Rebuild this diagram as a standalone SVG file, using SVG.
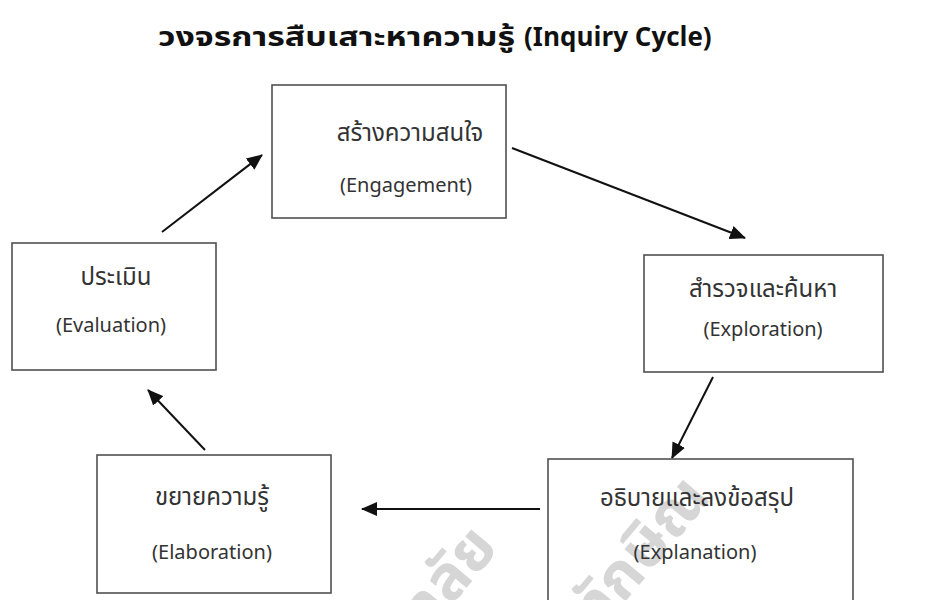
<svg xmlns="http://www.w3.org/2000/svg" width="936" height="600" viewBox="0 0 936 600">
<style>
.box{fill:#fff;stroke:#505050;stroke-width:1.6}
.th{font-family:"Noto Sans Thai","Noto Sans Thai Looped",Loma,Garuda,"DejaVu Sans",sans-serif;font-size:24px;fill:#333;text-anchor:middle}
.en{font-family:"Noto Sans","DejaVu Sans",sans-serif;font-size:20px;fill:#333;text-anchor:middle}
.title{font-family:"Noto Sans Thai",Loma,"Noto Sans","DejaVu Sans",sans-serif;font-size:26px;font-weight:bold;fill:#111}
.wm{font-family:"Noto Sans Thai",Loma,"DejaVu Sans",sans-serif;font-size:62px;font-weight:bold;fill:#c4c4c4;fill-opacity:0.7;text-anchor:end}
.conn{stroke:#111;stroke-width:2;fill:none;marker-end:url(#ah)}
</style>
<defs>
<marker id="ah" markerWidth="16" markerHeight="14" refX="15" refY="7" orient="auto" markerUnits="userSpaceOnUse">
<path d="M0,0 L16,7 L0,14 Z" fill="#111"/>
</marker>
</defs>
<rect width="936" height="600" fill="#fff"/>
<g id="title">
<text class="title" x="158" y="46" textLength="357" lengthAdjust="spacingAndGlyphs">วงจรการสืบเสาะหาความรู้</text>
<text class="title" x="524" y="46">(Inquiry Cycle)</text>
</g>

<g id="connectors">
<line class="conn" x1="162" y1="232" x2="262" y2="155"/>
<line class="conn" x1="512" y1="148" x2="745" y2="238"/>
<line class="conn" x1="713" y1="377" x2="672" y2="458"/>
<line class="conn" x1="540" y1="509" x2="362" y2="509"/>
<line class="conn" x1="205" y1="450" x2="148" y2="390"/>
</g>

<g id="engagement">
<rect class="box" x="272" y="85" width="234" height="133"/>
<text class="th" x="410" y="141">สร้างความสนใจ</text>
<text class="en" x="406" y="192">(Engagement)</text>
</g>
<g id="exploration">
<rect class="box" x="644" y="255" width="239" height="117"/>
<text class="th" x="763" y="297">สำรวจและค้นหา</text>
<text class="en" x="763" y="336">(Exploration)</text>
</g>
<g id="evaluation">
<rect class="box" x="12" y="243" width="204" height="127"/>
<text class="th" x="116" y="285">ประเมิน</text>
<text class="en" x="111" y="332">(Evaluation)</text>
</g>
<g id="elaboration">
<rect class="box" x="97" y="455" width="234" height="138"/>
<text class="th" x="212" y="505">ขยายความรู้</text>
<text class="en" x="212" y="559">(Elaboration)</text>
</g>
<g id="explanation">
<rect class="box" x="548" y="459" width="305" height="150"/>
</g>

<g id="watermark">
<text class="wm" transform="translate(500,548) rotate(-50)">มหาวิทยาลัย</text>
<text class="wm" transform="translate(712,498) rotate(-50)">ทักษิณ</text>
</g>

<g id="explanation-text">
<text class="th" x="697" y="506">อธิบายและลงข้อสรุป</text>
<text class="en" x="695" y="559">(Explanation)</text>
</g>
</svg>
